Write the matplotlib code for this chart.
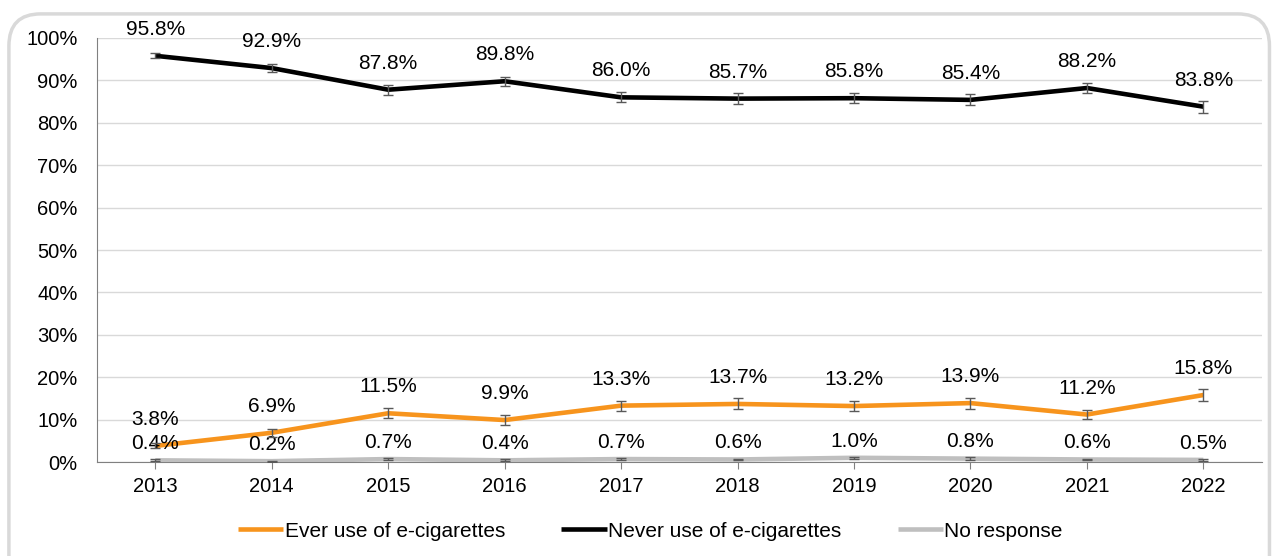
import numpy as np
import matplotlib.pyplot as plt
from matplotlib.patches import FancyBboxPatch

plt.rcParams['font.family'] = ['Liberation Sans', 'DejaVu Sans']

years = ['2013', '2014', '2015', '2016', '2017', '2018', '2019', '2020', '2021', '2022']
ever_use = [3.8, 6.9, 11.5, 9.9, 13.3, 13.7, 13.2, 13.9, 11.2, 15.8]
never_use = [95.8, 92.9, 87.8, 89.8, 86.0, 85.7, 85.8, 85.4, 88.2, 83.8]
no_response = [0.4, 0.2, 0.7, 0.4, 0.7, 0.6, 1.0, 0.8, 0.6, 0.5]
# approximate 95% CI half-widths
ever_err = [0.6, 1.0, 1.2, 1.1, 1.2, 1.3, 1.2, 1.3, 1.1, 1.4]
never_err = [0.6, 1.0, 1.2, 1.1, 1.2, 1.3, 1.2, 1.3, 1.1, 1.4]
nr_err = [0.2, 0.1, 0.3, 0.2, 0.3, 0.2, 0.3, 0.3, 0.2, 0.2]

fig = plt.figure(figsize=(12.72, 5.56), dpi=100)
# rounded frame around the chart (bottom runs off the image)
frame = FancyBboxPatch((0.007, -0.06), 0.991, 1.035, boxstyle='round,pad=0,rounding_size=0.025',
                       transform=fig.transFigure, facecolor='none', edgecolor='#d9d9d9', lw=2.5,
                       zorder=-1, mutation_aspect=2.3)
fig.patches.append(frame)
ax = fig.add_axes([0.0763, 0.169, 0.9155, 0.7627])
ax.patch.set_alpha(0)

x = np.arange(len(years))
series = [
    (ever_use, ever_err, '#f7941d', 'Ever use of e-cigarettes'),
    (never_use, never_err, '#000000', 'Never use of e-cigarettes'),
    (no_response, nr_err, '#bfbfbf', 'No response'),
]
for vals, err, col, lab in series:
    ax.plot(x, vals, color=col, lw=3.3, label=lab, solid_capstyle='butt', zorder=3)
    ax.errorbar(x, vals, yerr=err, fmt='none', ecolor='#595959', elinewidth=1, capsize=3.5, zorder=4)

for i in x:
    ax.annotate(f'{never_use[i]:.1f}%', (i, never_use[i]), xytext=(0, 19), textcoords='offset points',
                ha='center', va='center', fontsize=15)
    ax.annotate(f'{ever_use[i]:.1f}%', (i, ever_use[i]), xytext=(0, 19), textcoords='offset points',
                ha='center', va='center', fontsize=15)
    ax.annotate(f'{no_response[i]:.1f}%', (i, no_response[i]), xytext=(0, 12), textcoords='offset points',
                ha='center', va='center', fontsize=15)

ax.set_xlim(-0.5, 9.5)
ax.set_ylim(0, 100)
ax.set_xticks(x)
ax.set_xticklabels(years, fontsize=14.5)
ax.set_yticks(np.arange(0, 101, 10))
ax.set_yticklabels([f'{v}%' for v in range(0, 101, 10)], fontsize=14.5)
ax.grid(axis='y', color='#d9d9d9', lw=1)
ax.set_axisbelow(True)
for s in ['top', 'right']:
    ax.spines[s].set_visible(False)
for s in ['left', 'bottom']:
    ax.spines[s].set_color('#808080')
ax.tick_params(axis='y', length=0, pad=14)
ax.tick_params(axis='x', length=5, color='#808080', pad=6)

ax.legend(loc='center', bbox_to_anchor=(0.475, -0.163), ncol=3, frameon=False, fontsize=15,
          handlelength=2.2, handletextpad=0.05, columnspacing=2.7)

fig.savefig('out.png', dpi=100, facecolor='white')
